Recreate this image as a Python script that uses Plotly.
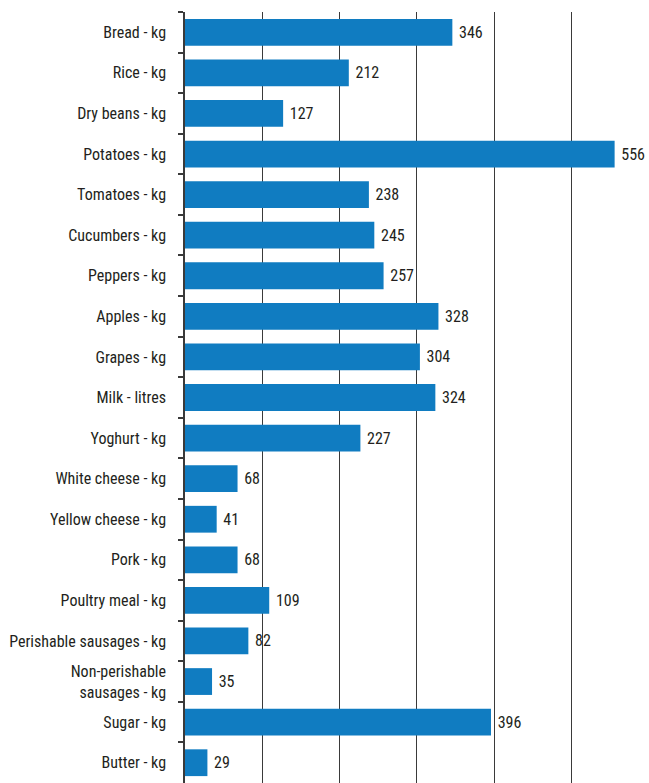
import plotly.graph_objects as go

categories = ["Bread - kg", "Rice - kg", "Dry beans - kg", "Potatoes - kg", "Tomatoes - kg",
              "Cucumbers - kg", "Peppers - kg", "Apples - kg", "Grapes - kg", "Milk - litres",
              "Yoghurt - kg", "White cheese - kg", "Yellow cheese - kg", "Pork - kg",
              "Poultry meal - kg", "Perishable sausages - kg", "Non-perishable<br>sausages - kg",
              "Sugar - kg", "Butter - kg"]
values = [346, 212, 127, 556, 238, 245, 257, 328, 304, 324, 227, 68, 41, 68, 109, 82, 35, 396, 29]

FONT = "Liberation Sans Narrow, Roboto Condensed, Arial Narrow, sans-serif"
TEXT = "#231f20"

fig = go.Figure(go.Bar(
    y=categories, x=values, orientation="h",
    marker=dict(color="#107cc1", line=dict(width=0)),
    text=["\u00a0" + str(v) for v in values], textposition="outside",
    textfont=dict(family=FONT, size=16, color=TEXT),
    cliponaxis=False, constraintext="none",
    hoverinfo="skip",
))

fig.update_layout(
    width=649, height=783,
    margin=dict(l=185, r=0, t=12, b=0),
    paper_bgcolor="white", plot_bgcolor="white",
    bargap=0.34, showlegend=False,
    font=dict(family=FONT, size=16, color=TEXT),
)
fig.update_xaxes(range=[0, 600.5], showgrid=True, gridcolor="#3a3a3a", gridwidth=1,
                 dtick=100, showticklabels=False, zeroline=False, showline=False, ticks="",
                 automargin=False)
fig.update_yaxes(autorange="reversed", showline=True, linecolor="#3a3a3a", linewidth=1.5,
                 ticks="outside", ticklen=5, tickcolor="#3a3a3a", tickwidth=1.5,
                 tickson="boundaries", showgrid=False, ticklabelstandoff=14,
                 automargin=False,
                 tickfont=dict(family=FONT, size=16, color=TEXT))

fig.write_html("out.html", config={"displayModeBar": False},
               post_script="document.body.style.margin='0';document.body.style.overflow='hidden';")
